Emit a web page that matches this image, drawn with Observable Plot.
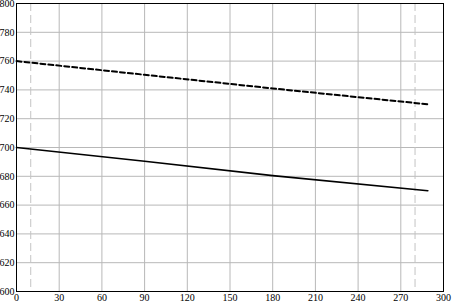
<!DOCTYPE html>
<html><head><meta charset="utf-8">
<script src="https://cdn.jsdelivr.net/npm/d3@7"></script>
<script src="https://cdn.jsdelivr.net/npm/@observablehq/plot@0.6"></script>
<style>html,body{margin:0;padding:0;background:#fff;overflow:hidden}
svg text, svg g[aria-label*="axis"]{font-family:"Times New Roman","Liberation Serif",serif !important;}</style>
</head><body><div id="chart"></div>
<script>
const xs = [0, 90, 180, 289];
const solidY = [700, 690.5, 680.5, 670];
const dashedY = [760, 750.5, 741, 730];
const xTicks = [0,30,60,90,120,150,180,210,240,270,300];
const yTicks = [600,620,640,660,680,700,720,740,760,780,800];
const markerX = [10, 280];

const solid = xs.map((x,i)=>({x, y: solidY[i]}));
const dashed = xs.map((x,i)=>({x, y: dashedY[i]}));

const chart = Plot.plot({
  width: 453, height: 304,
  marginTop: 3, marginBottom: 13, marginLeft: 16, marginRight: 10,
  style: {fontFamily: "'Times New Roman', 'Liberation Serif', serif", fontSize: "10px", background: "#fff", overflow: "visible"},
  x: {domain: [0,300], ticks: xTicks, tickSize: 0, tickPadding: 2, label: null},
  y: {domain: [600,800], ticks: yTicks, tickSize: 0, tickPadding: 2, label: null},
  marks: [
    Plot.gridX(xTicks, {stroke: "#b8b8b8", strokeOpacity: 1, strokeWidth: 1}),
    Plot.gridY(yTicks, {stroke: "#b8b8b8", strokeOpacity: 1, strokeWidth: 1}),
    Plot.ruleX(markerX, {stroke: "#c4c4c4", strokeWidth: 1, strokeDasharray: "8,4"}),
    Plot.axisX(xTicks, {tickSize: 0, tickPadding: 2, fill: "#000", fontSize: 10, fontFamily: "'Times New Roman', 'Liberation Serif', serif"}),
    Plot.axisY(yTicks, {tickSize: 0, tickPadding: 2, fill: "#000", fontSize: 10, fontFamily: "'Times New Roman', 'Liberation Serif', serif"}),
    Plot.line(solid, {x: "x", y: "y", stroke: "#000", strokeWidth: 1.6}),
    Plot.line(dashed, {x: "x", y: "y", stroke: "#000", strokeWidth: 2, strokeDasharray: "5,3"}),
    Plot.frame({stroke: "#000", strokeWidth: 1})
  ]
});
document.getElementById("chart").appendChild(chart);
</script></body></html>
